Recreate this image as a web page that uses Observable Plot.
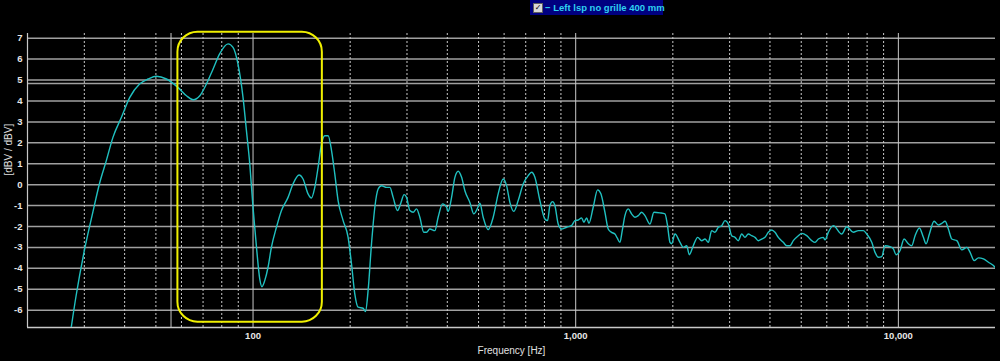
<!DOCTYPE html>
<html>
<head>
<meta charset="utf-8">
<script src="https://cdn.jsdelivr.net/npm/d3@7"></script>
<script src="https://cdn.jsdelivr.net/npm/@observablehq/plot@0.6"></script>
<style>
  html, body { margin: 0; padding: 0; background: #000; }
  #wrap { position: relative; width: 1000px; height: 361px; background: #000; overflow: hidden; }
  #legend { position: absolute; left: 530px; top: 0px; width: 133px; height: 15px; background: #000080;
            font: bold 9.5px "Liberation Sans", Arial, sans-serif; color: #2fd0f0; white-space: nowrap; line-height: 15px; }
  #legend .box { position: absolute; left: 3px; top: 3px; width: 8px; height: 8px; background: #d8d8d8; border: 1px solid #606060;
                 font: bold 8px "DejaVu Sans", sans-serif; color: #000; line-height: 8px; text-align: center; }
  #legend .txt { position: absolute; left: 15px; top: 0; }
</style>
</head>
<body>
<div id="wrap"><div id="legend"><span class="box">✓</span><span class="txt"></span></div></div>
<script>
const seriesName = "Left lsp no grille 400 mm";
const yLabel = "[dBV / dBV]";
const xLabel = "Frequency [Hz]";

const freqHz = [
  27.1, 28.3, 30.1, 31.9, 33.5, 35.1, 36.8, 39.1, 41.5,
  44.5, 47.3, 50.2, 53.9, 58.5, 62.2, 65.2, 68.4, 71.7, 75.2,
  78.8, 83.7, 86.7, 89.8, 93.1, 95.4, 97.7, 100, 102.5, 104.9,
  106.6, 108.7, 111.3, 114.0, 118.2, 122.5, 128.4, 133.0, 138.9, 142.9,
  148.1, 151.7, 155.4, 159.1, 163.0, 166.9, 170.9, 175.1, 179.2, 183.5,
  190.2, 197.1, 201.9, 206.7, 211.7, 219.4, 223.1, 227.3, 232.9, 238.5,
  244.2, 250.2, 259.3, 265.5, 271.8, 280.4, 286.5, 293.9, 299.0, 306.2,
  313.5, 321.1, 328.8, 338.3, 344.9, 353.1, 366.0, 374.7, 386.7, 397.9,
  402.5, 412.4, 422.3, 432.4, 443.0, 453.5, 469.9, 483.5, 495.1, 504.7,
  516.7, 535.5, 555.0, 575.1, 596.0, 610.6, 625.2, 643.3, 663.4, 687.5,
  712.4, 730.0, 747.4, 774.5, 802.6, 818.3, 831.8, 848.0, 862.0, 882.6,
  904.4, 925.9, 948.0, 971.2, 994.4, 1018, 1043, 1060, 1081, 1099,
  1133, 1169, 1197, 1232, 1261, 1292, 1323, 1345, 1371, 1394,
  1421, 1455, 1490, 1526, 1563, 1601, 1639, 1699, 1748, 1824,
  1891, 1922, 1960, 1984, 2031, 2105, 2154, 2208, 2249, 2314,
  2388, 2457, 2516, 2576, 2639, 2702, 2767, 2835, 2902, 2972,
  3044, 3117, 3191, 3269, 3347, 3427, 3511, 3595, 3681, 3771,
  3861, 3954, 4050, 4146, 4246, 4399, 4508, 4615, 4725, 4897,
  5017, 5200, 5389, 5517, 5649, 5853, 5925, 6066, 6286, 6675,
  6918, 7253, 7516, 7789, 7980, 8270, 8467, 8670, 8883, 9095,
  9425, 9650, 9837, 10122, 10416, 10740, 11002, 11267, 11618, 11954,
  12187, 12477, 12903, 13305, 13633, 13957, 14289, 14642, 15174, 15727,
  16299, 16687, 17170, 17707, 18350, 19016, 19707, 20000
];

const levelDb = [
  -7.2, -5.3, -3.05, -1.3, 0.1, 1.15, 2.26, 3.22, 4.17,
  4.81, 5.05, 5.18, 5.05, 4.65, 4.25, 4.06, 4.25, 4.81, 5.53,
  6.25, 6.73, 6.56, 5.77, 4.17, 2.58, 0.99, -1.1, -3.0, -4.5,
  -4.88, -4.59, -3.95, -3.0, -2.04, -1.24, -0.61, 0.03, 0.46, 0.27,
  -0.44, -0.64, -0.13, 0.83, 1.95, 2.34, 2.34, 1.63, 0.51, -0.76,
  -1.72, -2.52, -3.79, -5.22, -5.86, -5.91, -6.07, -5.07, -2.83, -1.08,
  -0.21, -0.05, -0.13, -0.13, -0.61, -1.24, -0.92, -0.48, -0.61, -1.24,
  -1.32, -1.16, -1.56, -2.28, -2.28, -2.12, -2.20, -1.56, -0.92, -1.08,
  -1.28, -0.61, 0.35, 0.64, 0.35, -0.29, -0.85, -1.40, -1.16, -0.89,
  -1.56, -2.15, -1.56, -0.44, 0.27, -0.05, -0.85, -1.28, -0.76, 0.03,
  0.43, 0.59, 0.35, -0.76, -1.64, -1.72, -1.00, -0.81, -1.00, -1.88,
  -2.12, -2.07, -2.01, -1.96, -1.72, -1.69, -1.59, -1.80, -1.59, -1.85,
  -1.08, -0.25, -0.44, -1.32, -2.12, -2.28, -2.36, -2.55, -2.76, -2.20,
  -1.48, -1.16, -1.40, -1.56, -1.48, -1.32, -1.48, -1.88, -1.32, -1.35,
  -1.40, -1.88, -2.76, -2.83, -2.36, -2.76, -3.00, -2.92, -3.35, -2.92,
  -2.52, -2.68, -2.60, -2.76, -2.20, -2.28, -2.04, -1.96, -1.72, -1.88,
  -2.44, -2.52, -2.68, -2.36, -2.52, -2.36, -2.44, -2.52, -2.68, -2.60,
  -2.52, -2.28, -2.17, -2.28, -2.52, -2.76, -2.92, -2.92, -2.68, -2.44,
  -2.33, -2.44, -2.68, -2.76, -2.60, -2.52, -2.64, -2.28, -1.96, -2.36,
  -2.01, -2.28, -2.20, -2.20, -2.36, -2.76, -3.24, -3.47, -3.44, -2.92,
  -2.96, -3.07, -3.35, -3.15, -2.60, -2.83, -2.92, -2.44, -2.07, -2.52,
  -2.83, -2.36, -1.75, -1.93, -1.85, -1.75, -2.12, -2.60, -2.68, -3.12,
  -3.00, -3.24, -3.63, -3.50, -3.55, -3.71, -3.87, -3.98
];

const xDomain = [20, 20000];
const yDomain = [-6.83, 7.225];
const yTicks = [-6, -5, -4, -3, -2, -1, 0, 1, 2, 3, 4, 5, 6, 7];
const xMajor = [100, 1000, 10000];
const xMinor = [30, 40, 50, 60, 70, 80, 90, 200, 300, 400, 500, 600, 700, 800, 900,
                2000, 3000, 4000, 5000, 6000, 7000, 8000, 9000];
const cursorHz = [55.7];
const cursorDb = [4.84];
const highlightHz = [58.5, 164];
const highlightDb = [-6.575, 7.29];

const data = freqHz.map((f, i) => ({f, db: levelDb[i]}));
const font = "Liberation Sans, Arial, sans-serif";

document.querySelector("#legend .txt").textContent = "\u2212 " + seriesName;

const chart = Plot.plot({
  width: 1000,
  height: 361,
  marginLeft: 27,
  marginRight: 5,
  marginTop: 33,
  marginBottom: 34,
  style: {background: "#000", fontFamily: font, overflow: "visible"},
  x: {type: "log", domain: xDomain, axis: null},
  y: {domain: yDomain, axis: null},
  marks: [
    Plot.ruleY(yTicks, {stroke: "#a0a0a0", strokeWidth: 1.5}),
    Plot.ruleY(cursorDb, {stroke: "#a0a0a0", strokeWidth: 1.5}),
    Plot.ruleX(xMinor, {stroke: "#c8c8c8", strokeWidth: 1, strokeDasharray: "2,2"}),
    Plot.ruleX(xMajor, {stroke: "#c8c8c8", strokeWidth: 1}),
    Plot.ruleX(cursorHz, {stroke: "#c8c8c8", strokeWidth: 1}),
    Plot.ruleX([xDomain[0]], {stroke: "#c8c8c8", strokeWidth: 1.2}),
    Plot.ruleY([yDomain[0]], {stroke: "#c8c8c8", strokeWidth: 1.5}),
    Plot.line(data, {x: "f", y: "db", stroke: "#20c0c0", strokeWidth: 1.4, curve: "monotone-x", clip: true}),
    Plot.rect([{x1: highlightHz[0], x2: highlightHz[1], y1: highlightDb[0], y2: highlightDb[1]}],
      {x1: "x1", x2: "x2", y1: "y1", y2: "y2", fill: "none", stroke: "#f0f000", strokeWidth: 2, rx: 20}),
    Plot.axisY(yTicks, {tickSize: 0, tickPadding: 5, tickFormat: d => String(d), fill: "#e6e6e6",
      fontWeight: "bold", fontSize: 9.5, label: null}),
    Plot.axisX(xMajor, {tickSize: 0, tickPadding: 5, tickFormat: d3.format(","), fill: "#e6e6e6",
      fontWeight: "bold", fontSize: 9.5, label: null}),
    Plot.text([xLabel], {frameAnchor: "bottom", dy: 23, fill: "#e0e0e0", fontSize: 10, lineAnchor: "middle"}),
    Plot.text([yLabel], {frameAnchor: "left", dx: -19, dy: -5, rotate: -90, fill: "#e0e0e0", fontSize: 10})
  ]
});
document.getElementById("wrap").prepend(chart);
</script>
</body>
</html>
